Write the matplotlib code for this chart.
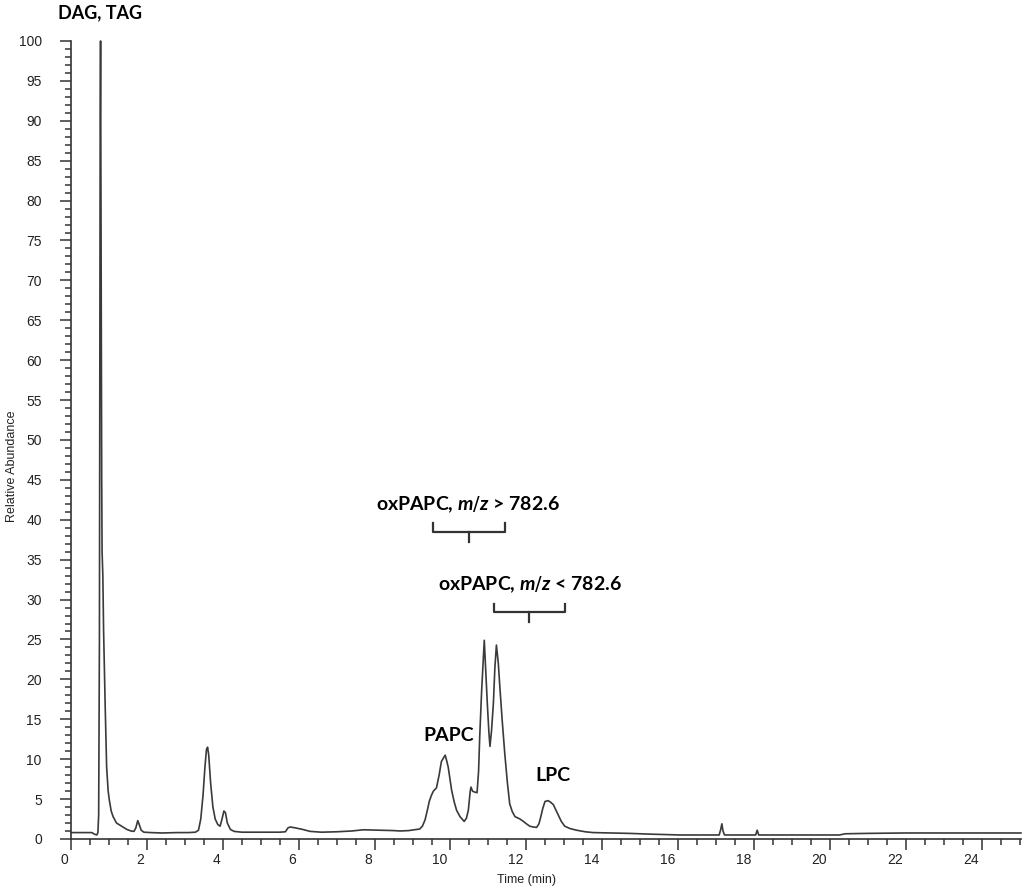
import matplotlib
matplotlib.use("Agg")
import matplotlib.pyplot as plt
import matplotlib.transforms as mtransforms
from matplotlib.ticker import MultipleLocator

# chromatogram trace
time_min = [0.00, 0.30, 0.55, 0.62, 0.68, 0.71, 0.73, 0.75, 0.77, 0.78, 0.79, 0.81, 0.82, 0.84,
            0.86, 0.90, 0.94, 0.98, 1.01, 1.06, 1.11, 1.20, 1.30, 1.37, 1.47, 1.58, 1.66, 1.71,
            1.76, 1.80, 1.85, 1.92, 2.10, 2.40, 2.80, 3.10, 3.28, 3.36, 3.42, 3.48, 3.53, 3.57,
            3.60, 3.63, 3.68, 3.74, 3.80, 3.87, 3.93, 3.98, 4.03, 4.07, 4.12, 4.20, 4.30, 4.50,
            5.00, 5.50, 5.65, 5.72, 5.78, 5.90, 6.10, 6.30, 6.60, 7.00, 7.40, 7.70, 8.10, 8.50,
            8.67, 8.90, 9.19, 9.26, 9.33, 9.40, 9.44, 9.50, 9.55, 9.63, 9.70, 9.76, 9.82, 9.86,
            9.90, 9.94, 10.03, 10.10, 10.16, 10.25, 10.36, 10.42, 10.47, 10.52, 10.54, 10.58,
            10.62, 10.70, 10.74, 10.77, 10.82, 10.89, 10.93, 10.97, 11.01, 11.04, 11.08, 11.13,
            11.17, 11.21, 11.26, 11.30, 11.36, 11.43, 11.50, 11.56, 11.63, 11.70, 11.83, 11.92,
            12.00, 12.09, 12.18, 12.27, 12.33, 12.37, 12.43, 12.49, 12.57, 12.64, 12.71, 12.78,
            12.84, 12.92, 13.01, 13.15, 13.32, 13.55, 13.76, 14.20, 14.70, 15.30, 16.04, 16.60,
            17.08, 17.12, 17.15, 17.18, 17.22, 17.70, 18.04, 18.08, 18.12, 18.60, 19.50, 20.25,
            20.40, 21.00, 22.00, 23.00, 24.00, 25.03]
abundance = [0.8, 0.8, 0.8, 0.6, 0.5, 0.8, 3.0, 25.0, 90.0, 100.0, 80.0, 45.0, 36.0, 33.0,
             26.0, 17.0, 9.0, 6.0, 4.9, 3.5, 2.8, 2.0, 1.7, 1.5, 1.2, 1.0, 0.95, 1.4,
             2.3, 1.8, 1.1, 0.85, 0.8, 0.75, 0.8, 0.8, 0.85, 1.1, 2.5, 5.5, 9.0, 11.2,
             11.5, 10.5, 7.0, 4.0, 2.5, 1.8, 1.6, 2.5, 3.5, 3.3, 2.0, 1.2, 0.95, 0.85,
             0.85, 0.85, 0.9, 1.4, 1.5, 1.4, 1.2, 0.95, 0.85, 0.9, 1.0, 1.15, 1.1, 1.05,
             1.0, 1.05, 1.25, 1.6, 2.4, 3.8, 4.7, 5.5, 6.0, 6.4, 8.0, 9.7, 10.2, 10.5,
             9.8, 9.0, 6.1, 4.6, 3.6, 2.8, 2.2, 2.6, 3.6, 6.0, 6.5, 6.0,
             5.9, 5.8, 8.5, 12.8, 18.5, 24.9, 21.0, 17.0, 13.5, 11.6, 13.5, 17.0,
             21.5, 24.3, 22.0, 19.1, 15.0, 10.7, 7.0, 4.4, 3.4, 2.8, 2.5, 2.2,
             1.9, 1.6, 1.5, 1.45, 1.9, 2.6, 3.8, 4.7, 4.8, 4.6, 4.3, 3.6,
             3.0, 2.2, 1.6, 1.3, 1.1, 0.9, 0.8, 0.75, 0.7, 0.6, 0.5, 0.5,
             0.5, 1.2, 1.9, 1.0, 0.5, 0.5, 0.5, 1.1, 0.5, 0.5, 0.5, 0.5,
             0.65, 0.7, 0.75, 0.75, 0.75, 0.75]

x_major = list(range(0, 25, 2))
y_major = list(range(0, 101, 5))

plt.rcParams['mathtext.fontset'] = 'custom'
plt.rcParams['mathtext.it'] = 'Lato:italic:bold'

fig = plt.figure(figsize=(10.24, 8.91), dpi=100)
ax = fig.add_axes([0.0693, 0.0584, 0.9277, 0.8956])

ax.plot(time_min, abundance, color='#3a3a3a', linewidth=1.2, clip_on=False)

ax.set_xlim(0, 25.03)
ax.set_ylim(0, 100)
for s in ['top', 'right']:
    ax.spines[s].set_visible(False)
for s in ['left', 'bottom']:
    ax.spines[s].set_color('#333333')
    ax.spines[s].set_linewidth(1.2)

ax.xaxis.set_minor_locator(MultipleLocator(0.5))
ax.yaxis.set_minor_locator(MultipleLocator(1))
ax.tick_params(which='major', length=8, width=1.1, color='#333333')
ax.tick_params(which='minor', length=4.5, width=1.1, color='#333333')
ax.tick_params(axis='y', which='major', pad=13)
ax.tick_params(axis='x', which='major', pad=2)

ax.set_yticks(y_major)
ax.set_yticklabels([str(v) for v in y_major], fontsize=10, family='Liberation Sans', color='#222222')
ax.set_xticks(x_major)
ax.set_xticklabels([str(v) for v in x_major], fontsize=10, family='Liberation Sans',
                   color='#222222', ha='right')
shift = mtransforms.ScaledTranslation(-2 / 72, 0, fig.dpi_scale_trans)
for lab in ax.get_xticklabels():
    lab.set_transform(lab.get_transform() + shift)

ax.set_xlabel('Time (min)', fontsize=9, family='Liberation Sans', color='#222222')
ax.xaxis.set_label_coords(0.48, -0.044)
fig.text(12 / 1024, 1 - 466 / 891, 'Relative Abundance', rotation=90, ha='center', va='center',
         fontsize=9, family='Liberation Sans', color='#222222')

bold = dict(family='Lato', weight='bold', fontsize=14, color='black')
ax.text(-0.34, 103.5, 'DAG, TAG', ha='left', va='center', clip_on=False,
        family='Lato', weight='bold', fontsize=13, color='black')
ax.text(9.95, 13.0, 'PAPC', ha='center', va='center', **bold)
ax.text(12.70, 8.0, 'LPC', ha='center', va='center', **bold)
ax.text(10.47, 41.9, 'oxPAPC, $m/z$ > 782.6', ha='center', va='center', **bold)
ax.text(12.09, 31.8, 'oxPAPC, $m/z$ < 782.6', ha='center', va='center', **bold)


def bracket(x0, x1, top, base, tip):
    xm = (x0 + x1) / 2
    ax.plot([x0, x0, x1, x1], [top, base, base, top], color='#333333', lw=1.6,
            solid_joinstyle='round')
    ax.plot([xm, xm], [base, tip], color='#333333', lw=1.6)


bracket(9.54, 11.43, 39.6, 38.5, 37.2)
bracket(11.15, 13.01, 29.5, 28.5, 27.2)

fig.savefig('out.png', dpi=100)
